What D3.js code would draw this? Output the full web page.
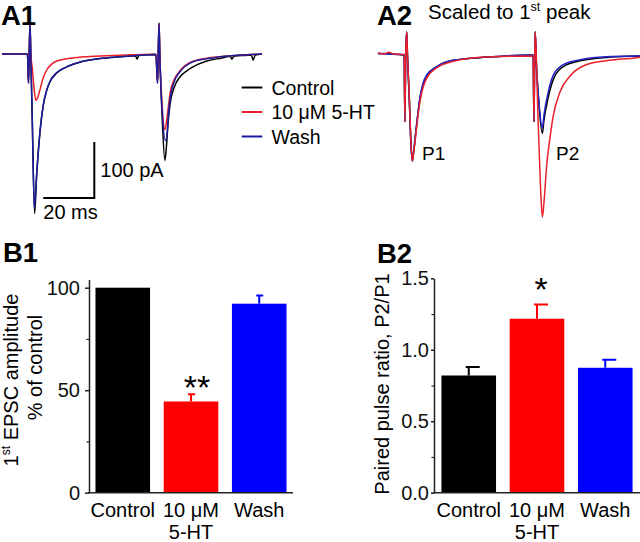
<!DOCTYPE html>
<html>
<head>
<meta charset="utf-8">
<script src="https://cdn.jsdelivr.net/npm/d3@7"></script>
<style>
html,body{margin:0;padding:0;background:#fff;}
svg{display:block;font-family:"Liberation Sans",Arial,Helvetica,sans-serif;}
</style>
</head>
<body>
<svg id="fig" width="640" height="542"></svg>
<script>
// ---------- DATA ----------
const categories = ["Control", "10 μM|5-HT", "Wash"];
const b1Values = [100, 44.5, 92.2];
const b1Errors = [0, 3.5, 4.0];
const b1Ticks = [0, 50, 100];
const b1MinorTicks = [25, 75];
const b2Values = [0.82, 1.217, 0.874];
const b2Errors = [0.06, 0.10, 0.056];
const b2Ticks = [0, 0.5, 1.0, 1.5];
const b2MinorTicks = [0.25, 0.75, 1.25];
const b1Stars = ["", "**", ""];
const b2Stars = ["", "*", ""];
const legendLabels = ["Control", "10 μM 5-HT", "Wash"];

// A1 traces: [time ms, current pA]
const a1Control = [[-11,0],[-3,0.5],[-1.0,0],[-0.6,-52],[-0.3,0],[0,55],[0.3,0],[0.9,-120],[1.8,-285],[2.6,-218],[3.9,-140],[5.2,-92],[6.5,-66],[7.8,-50],[10.5,-34],[14.4,-23],[20,-14],[27.5,-8],[35,-5],[41.3,-3],[42,-9],[42.7,-2.5],[49.4,-1],
  [50.0,-52],[50.3,0],[50.6,55],[50.9,0],[51.8,-110],[52.9,-190],[53.5,-165],[54.2,-120],[55,-87],[56.5,-60],[58.8,-41],[61.5,-30],[63.9,-23],[69,-13],[75.3,-7],[78.5,-4],[79.2,-9],[80,-4],[84,-2.5],[86.8,-2],[87.5,-11],[88.3,-2],[91,0]];
const a1Serotonin = [[-11,0],[-3,0],[-1.0,0],[-0.6,-52],[-0.3,0],[0,55],[0.3,0],[0.9,-25],[1.6,-62],[2.35,-83],[3.0,-78],[3.9,-64],[5.2,-42],[6.5,-29],[8.5,-18],[10.5,-12.5],[15,-8],[20.8,-5],[30,-3],[40,-1.5],[49.4,-0.5],
  [50.0,-52],[50.3,0],[50.6,55],[50.9,0],[51.8,-90],[52.9,-135],[53.5,-122],[54.2,-96],[55,-68],[56.5,-46],[58.8,-30],[63.9,-13],[71.8,-6],[82.4,-2],[91,0]];
const a1Wash = [[-11,0],[-3,0],[-1.0,0],[-0.6,-52],[-0.3,0],[0,55],[0.3,0],[0.9,-120],[1.7,-275],[2.6,-215],[3.9,-139],[5.2,-91],[6.5,-65],[7.8,-49],[10.5,-33],[14.4,-23],[20,-14],[27.5,-8],[35,-5],[41,-3],[49.4,-1],
  [50.0,-52],[50.3,0],[50.6,55],[50.9,0],[51.8,-100],[53.2,-155],[53.8,-140],[54.3,-107],[55,-78],[56.5,-50],[58.8,-32],[63.9,-14],[71.8,-7],[82.4,-2],[91,0]];

// A2 traces: [time ms, current normalised to 1st peak]
const a2Control = [[-11.3,0.015],[-1.0,0],[-0.7,-0.63],[-0.4,0],[0,0.22],[0.3,0],[1.0,-0.4],[1.7,-0.85],[2.2,-1.0],[2.7,-0.92],[3.9,-0.66],[5.2,-0.41],[6.5,-0.27],[7.8,-0.2],[11.8,-0.11],[18.2,-0.05],[31.4,-0.02],[49.6,0],
  [49.9,-0.63],[50.2,0],[50.4,0.22],[50.7,0],[51.8,-0.45],[53.2,-0.74],[53.8,-0.62],[55.5,-0.40],[57.5,-0.23],[61.4,-0.11],[69.1,-0.05],[80,-0.02],[91.5,-0.01]];
const a2Wash = [[-11.3,0.015],[-1.0,0],[-0.7,-0.63],[-0.4,0],[0,0.22],[0.3,0],[1.0,-0.42],[1.7,-0.86],[2.2,-1.0],[2.7,-0.91],[3.9,-0.65],[5.2,-0.40],[6.5,-0.26],[7.8,-0.19],[11.8,-0.11],[18.2,-0.05],[31.4,-0.02],[49.6,0],
  [49.9,-0.63],[50.2,0],[50.4,0.22],[50.7,0],[51.8,-0.42],[53.2,-0.69],[53.8,-0.57],[55.5,-0.35],[57.5,-0.19],[61.4,-0.09],[69.1,-0.04],[80,-0.015],[91.5,-0.01]];
const a2Serotonin = [[-11.3,0.02],[-9,0.01],[-7,0.025],[-5,0.01],[-1.0,0.005],[-0.7,-0.63],[-0.4,0],[0,0.22],[0.3,0],[1.0,-0.38],[1.7,-0.84],[2.2,-1.0],[2.7,-0.93],[3.9,-0.68],[5.2,-0.44],[6.5,-0.30],[7.8,-0.22],[11.8,-0.12],[18.2,-0.06],[31.4,-0.02],[49.6,-0.01],
  [49.9,-0.63],[50.2,0],[50.4,0.22],[50.8,0],[51.5,-0.6],[52.4,-1.2],[53.2,-1.53],[53.8,-1.4],[54.9,-1.04],[56.2,-0.78],[57.5,-0.57],[60.1,-0.35],[64,-0.2],[70.6,-0.09],[79.7,-0.05],[90.2,-0.025],[91.5,-0.02]];

// ---------- STYLE ----------
const C_BLACK = "#000000", C_RED = "#e8202a", C_BLUE = "#1c1ca0";
const C_BAR_RED = "#ff0000", C_BAR_BLUE = "#0000ff";
const FONT = 20;

const svg = d3.select("#fig");
svg.append("rect").attr("width",640).attr("height",542).attr("fill","#fff");

function panelLabel(txt, x, y){
  svg.append("text").attr("x",x).attr("y",y).attr("font-size",27.5).attr("font-weight","bold").text(txt);
}

// ---------- A1 ----------
const xA1 = d3.scaleLinear().domain([0,20]).range([30,81]);
const yA1 = d3.scaleLinear().domain([0,-100]).range([54,110]);
const lineA1 = d3.line().x(d=>xA1(d[0])).y(d=>yA1(d[1])).curve(d3.curveMonotoneX);
[[a1Control,C_BLACK],[a1Serotonin,C_RED],[a1Wash,C_BLUE]].forEach(([data,col])=>{
  svg.append("path").datum(data).attr("d",lineA1).attr("fill","none").attr("stroke",col).attr("stroke-width",1.5).attr("stroke-linejoin","round");
});
panelLabel("A1", 1, 25);

// scale bar (20 ms, 100 pA)
const sbX0 = 43.3, sbY = 198;
const sbW = xA1(20) - xA1(0), sbH = yA1(-100) - yA1(0);
svg.append("path").attr("d",`M${sbX0},${sbY}H${sbX0+sbW}V${sbY-sbH}`).attr("fill","none").attr("stroke","#000").attr("stroke-width",2);
svg.append("text").attr("x",sbX0+sbW+6).attr("y",177).attr("font-size",FONT).text("100 pA");
svg.append("text").attr("x",sbX0).attr("y",218.5).attr("font-size",FONT).text("20 ms");

// legend
const legCols = [C_BLACK, C_RED, C_BLUE];
const legY = [87.5, 112, 136.5];
legendLabels.forEach((lab,i)=>{
  svg.append("line").attr("x1",241.7).attr("x2",262.3).attr("y1",legY[i]).attr("y2",legY[i]).attr("stroke",legCols[i]).attr("stroke-width",2);
  svg.append("text").attr("x",271.5).attr("y",legY[i]+7).attr("font-size",19.5).text(lab);
});

// ---------- A2 ----------
const xA2 = d3.scaleLinear().domain([0,20]).range([406.7,457.7]);
const yA2 = d3.scaleLinear().domain([0,-1]).range([55,161]);
const lineA2 = d3.line().x(d=>xA2(d[0])).y(d=>yA2(d[1])).curve(d3.curveMonotoneX);
[[a2Control,C_BLACK],[a2Wash,"#2222c8"],[a2Serotonin,C_RED]].forEach(([data,col])=>{
  svg.append("path").datum(data).attr("d",lineA2).attr("fill","none").attr("stroke",col).attr("stroke-width",1.5).attr("stroke-linejoin","round");
});
panelLabel("A2", 377, 25);
const sc = svg.append("text").attr("x",428).attr("y",19).attr("font-size",20.5);
sc.append("tspan").text("Scaled to 1");
sc.append("tspan").attr("font-size",12.5).attr("dy",-8).text("st");
sc.append("tspan").attr("dy",8).text(" peak");
svg.append("text").attr("x",422).attr("y",160).attr("font-size",19).text("P1");
svg.append("text").attr("x",556).attr("y",160).attr("font-size",19).text("P2");

// ---------- bar panels ----------
const barCols = [C_BLACK, C_BAR_RED, C_BAR_BLUE];
function barPanel(opt){
  const x = d3.scaleBand().domain(categories).range(opt.xr).paddingInner(0.2).paddingOuter(opt.po);
  const y = d3.scaleLinear().domain(opt.yd).range(opt.yr);
  const g = svg.append("g");
  // bars
  g.selectAll("rect.bar").data(opt.values).join("rect")
    .attr("x",(d,i)=>x(categories[i])).attr("width",x.bandwidth())
    .attr("y",d=>y(d)).attr("height",d=>y(0)-y(d))
    .attr("fill",(d,i)=>barCols[i]);
  // error bars
  opt.values.forEach((v,i)=>{
    if(!opt.errors[i]) return;
    const cx = x(categories[i]) + x.bandwidth()/2;
    const top = y(v+opt.errors[i]);
    g.append("path").attr("d",`M${cx},${y(v)}V${top}M${cx-opt.capL},${top}H${cx+opt.capR}`)
      .attr("stroke",barCols[i]).attr("stroke-width",2).attr("fill","none");
    if(opt.stars[i]){
      g.append("text").attr("x",cx+opt.starDx).attr("y",top+opt.starDy).attr("text-anchor","middle")
        .attr("font-size",opt.starSize).text(opt.stars[i]);
    }
  });
  // axes
  const ax = g.append("g").attr("transform",`translate(${opt.xr[0]},0)`)
    .call(d3.axisLeft(y).tickValues(opt.ticks).tickFormat(opt.fmt).tickSize(opt.tick).tickSizeOuter(0).tickPadding(opt.pad));
  ax.select(".domain").attr("stroke","#222").attr("stroke-width",1.5);
  ax.selectAll(".tick line").attr("stroke","#222").attr("stroke-width",1.5);
  ax.selectAll(".tick text").attr("font-size",FONT).attr("font-family","Liberation Sans, Arial, sans-serif").attr("fill","#111");
  const mx = g.append("g").attr("transform",`translate(${opt.xr[0]},0)`)
    .call(d3.axisLeft(y).tickValues(opt.minor).tickFormat("").tickSize(2.5).tickSizeOuter(0));
  mx.select(".domain").remove();
  mx.selectAll(".tick line").attr("stroke","#222").attr("stroke-width",1.2);
  g.append("line").attr("x1",opt.xr[0]-1).attr("x2",opt.xr[1]).attr("y1",y(0)).attr("y2",y(0)).attr("stroke","#222").attr("stroke-width",1.5);
  // category labels
  categories.forEach((c,i)=>{
    const cx = x(c) + x.bandwidth()/2;
    const t = g.append("text").attr("text-anchor","middle").attr("font-size",FONT);
    c.split("|").forEach((part,j)=>{
      t.append("tspan").attr("x",cx).attr("y",517+j*21.5).text(part);
    });
  });
  return g;
}

barPanel({xr:[89,293], po:0.095, yd:[0,104], yr:[492.7,279.5], values:b1Values, errors:b1Errors,
  ticks:b1Ticks, minor:b1MinorTicks, fmt:d3.format("d"), tick:4, pad:5, capL:3, capR:4,
  stars:b1Stars, starDx:6, starDy:5, starSize:34});
barPanel({xr:[434,640], po:0.109, yd:[0,1.5], yr:[492.7,278.3], values:b2Values, errors:b2Errors,
  ticks:b2Ticks, minor:b2MinorTicks, fmt:d3.format(".1f"), tick:3, pad:2, capL:3, capR:11,
  stars:b2Stars, starDx:4, starDy:-3, starSize:34});

panelLabel("B1", 3, 262);
panelLabel("B2", 377, 263);

// y labels
const yl1 = svg.append("text").attr("transform","translate(18,380) rotate(-90)").attr("text-anchor","middle").attr("font-size",FONT);
yl1.append("tspan").text("1");
yl1.append("tspan").attr("font-size",12).attr("dy",-8).text("st");
yl1.append("tspan").attr("dy",8).text(" EPSC amplitude");
svg.append("text").attr("transform","translate(41.5,367.5) rotate(-90)").attr("text-anchor","middle").attr("font-size",FONT).text("% of control");
svg.append("text").attr("transform","translate(388.5,384) rotate(-90)").attr("text-anchor","middle").attr("font-size",FONT).text("Paired pulse ratio, P2/P1");
</script>
</body>
</html>
